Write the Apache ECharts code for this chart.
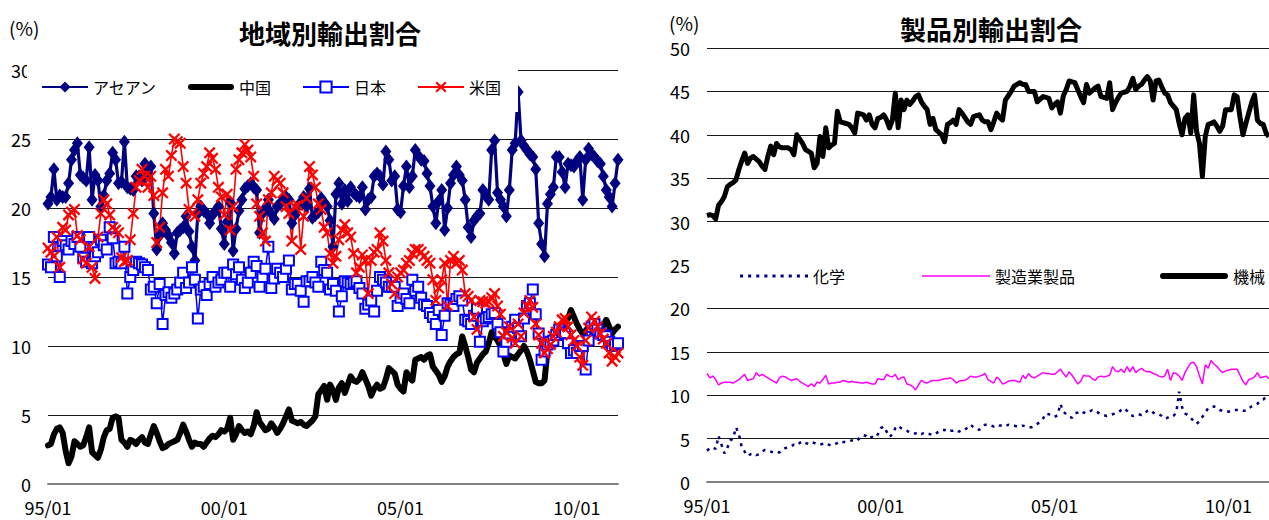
<!DOCTYPE html>
<html>
<head>
<meta charset="utf-8">
<script src="https://cdn.jsdelivr.net/npm/echarts@6/dist/echarts.min.js"></script>
<style>
  html, body { margin: 0; padding: 0; background: #fff; }
  #chart { width: 1269px; height: 520px; }
</style>
</head>
<body>
<div id="chart"></div>
<script>
// Monthly export shares (%), 1995/01 - 2011/03

// Left panel: share by destination
const asean = [
  20.3,20.8,22.8,20.6,20.9,20.8,20.8,21.8,23.5,24.2,24.7,22.4,
  22.2,22.0,24.4,20.6,22.4,22.0,20.1,20.9,22.0,22.5,24.0,23.5,
  21.8,21.9,24.8,21.5,21.4,21.3,22.3,22.3,22.0,23.2,22.4,23.0,
  19.6,17.0,18.0,18.9,18.4,18.0,17.5,16.7,18.2,18.4,18.6,19.4,
  18.3,17.2,16.2,19.6,20.1,19.8,19.6,18.9,19.5,19.8,20.1,18.5,
  17.4,19.0,20.4,16.9,18.5,19.8,20.6,21.4,21.6,21.8,21.5,21.3,
  18.2,19.6,20.0,20.6,19.6,19.2,20.1,20.3,20.6,20.8,20.6,18.9,
  19.5,20.1,20.4,20.8,20.1,21.4,19.3,19.5,19.7,20.7,20.4,20.1,
  19.1,17.2,21.0,21.8,20.3,21.3,20.5,21.5,21.1,20.9,20.8,21.5,
  19.9,20.6,20.8,22.3,22.5,22.3,21.7,24.1,23.5,22.0,22.3,19.9,
  19.7,21.6,23.0,21.5,22.3,24.2,23.8,23.5,23.4,22.5,21.6,20.1,
  18.9,20.5,21.3,18.4,20.0,21.8,22.4,23.0,22.4,22.0,20.6,18.6,
  17.9,19.1,19.4,19.6,21.3,20.9,20.6,24.2,24.9,21.1,20.6,20.1,
  19.4,21.3,24.2,24.7,28.4,24.9,24.5,24.2,23.9,23.7,22.8,18.9,
  17.4,16.5,20.3,21.0,21.5,23.7,23.7,22.6,21.5,23.2,23.1,23.0,
  23.4,23.7,20.6,23.5,24.3,23.9,23.7,23.4,23.2,22.3,21.3,20.8,
  20.1,21.8,23.5
];
const china = [
  2.8,2.9,3.6,4.0,4.1,3.7,2.4,1.5,2.0,3.1,2.9,2.7,
  2.8,3.4,4.1,2.3,2.1,1.9,2.5,3.4,3.9,4.0,4.8,4.9,
  4.8,3.2,3.0,2.7,3.2,3.1,2.9,3.2,3.4,3.0,2.9,3.6,
  4.2,3.7,3.1,2.6,2.7,2.9,3.0,3.1,3.2,3.7,4.3,3.8,
  3.2,2.7,3.0,2.9,2.9,2.7,3.0,3.3,3.5,3.4,3.6,3.9,
  3.8,4.0,4.8,3.2,3.6,4.2,3.9,3.7,3.8,3.6,4.2,5.2,
  4.5,4.2,3.9,4.0,4.4,4.1,3.7,4.0,4.4,4.9,5.4,4.6,
  4.5,4.4,4.5,4.3,4.2,4.4,4.6,4.9,6.5,6.8,7.1,6.1,
  7.2,6.8,6.1,7.0,7.3,6.6,7.2,7.8,7.5,7.4,7.6,8.1,
  7.6,7.1,6.4,6.9,7.2,6.9,7.0,7.6,8.4,8.2,8.0,7.2,
  6.9,6.7,8.1,7.7,7.5,9.0,9.1,9.2,9.0,9.3,9.4,8.5,
  8.2,7.9,7.4,7.8,8.5,8.9,9.2,9.4,9.5,10.7,10.0,9.2,
  8.3,8.1,8.8,9.1,9.4,9.6,10.2,11.0,10.7,10.4,10.0,9.4,
  8.7,9.3,9.2,9.1,9.4,9.7,10.0,9.6,9.0,8.2,7.4,7.3,
  7.3,7.5,9.7,10.3,10.9,11.2,11.4,11.5,11.6,12.0,12.6,12.1,
  11.6,11.2,10.9,11.1,11.4,11.1,10.9,11.0,11.2,11.5,11.9,11.4,
  10.9,11.2,11.4
];
const japan = [
  15.9,15.7,17.9,16.5,15.0,17.6,17.3,17.0,17.6,17.4,17.9,17.2,
  16.4,16.1,17.9,16.0,16.5,16.8,17.7,17.3,17.0,18.6,17.8,16.0,
  16.1,16.0,17.2,13.8,15.0,15.5,16.1,16.0,15.9,15.7,15.5,14.1,
  14.3,13.1,14.5,11.6,13.7,13.9,13.5,13.8,14.1,14.6,15.3,14.2,
  14.6,15.7,14.8,12.0,14.1,14.3,13.7,14.5,15.0,14.3,14.6,14.8,
  15.3,15.3,14.3,15.9,15.2,15.7,14.8,14.2,14.6,15.3,16.1,15.8,
  14.3,15.0,15.6,17.2,14.2,14.9,15.6,15.3,15.0,15.6,16.2,14.1,
  14.5,14.5,14.0,13.2,14.7,14.7,15.0,14.6,14.3,16.1,15.5,15.3,
  14.1,14.5,14.0,12.5,13.6,14.7,14.6,14.5,14.6,14.7,14.2,13.8,
  12.7,13.0,13.3,12.5,14.0,15.0,14.8,14.6,14.3,14.3,14.3,12.9,
  13.5,13.8,13.4,13.1,14.8,14.0,14.3,13.5,13.0,12.9,12.4,12.1,
  11.6,12.6,10.8,12.2,13.1,13.0,12.9,13.4,13.6,13.3,11.9,11.8,
  11.6,12.2,12.7,10.3,11.8,12.0,12.1,12.3,12.4,11.6,11.0,9.6,
  10.3,10.9,11.4,11.9,11.3,10.7,12.0,12.9,13.1,14.1,12.3,10.9,
  9.0,9.6,10.1,10.3,10.4,10.8,11.2,11.0,10.9,10.2,9.5,9.7,
  9.5,10.0,10.0,8.3,10.4,11.4,11.6,11.2,10.9,10.8,10.7,10.3,
  10.0,10.1,10.2
];
const usa = [
  17.1,16.8,16.5,17.9,15.7,18.6,18.4,19.5,19.7,19.9,18.0,17.7,
  16.3,16.0,17.2,15.7,14.9,17.9,19.6,20.6,20.3,19.5,18.6,18.4,
  18.2,16.4,16.1,16.2,17.7,19.6,21.5,22.0,22.8,22.3,21.5,22.3,
  20.9,17.5,18.6,21.1,22.8,22.3,23.8,25.0,24.8,24.7,23.0,21.8,
  19.9,19.6,19.4,20.6,21.8,22.5,23.0,24.0,23.6,22.8,21.5,20.8,
  19.5,21.0,18.4,20.1,22.8,23.5,24.0,24.6,24.2,23.7,22.3,20.3,
  19.4,18.2,17.6,20.6,21.1,22.3,22.0,21.8,21.1,20.1,19.6,17.6,
  20.1,20.2,17.0,19.4,20.7,23.0,22.4,21.5,20.3,19.9,18.6,18.2,
  16.7,16.0,16.5,17.7,18.4,18.8,18.2,17.9,16.7,15.3,15.7,16.6,
  16.2,13.8,16.2,16.8,17.0,18.2,17.6,16.2,15.3,14.5,13.8,15.0,
  15.3,15.5,16.0,16.2,16.7,17.0,17.0,16.8,16.5,16.2,16.0,14.8,
  13.3,14.2,14.8,16.0,12.9,16.2,16.5,16.0,16.2,15.5,13.8,13.6,
  13.3,12.1,11.2,13.3,13.2,13.1,13.2,13.5,13.8,12.9,12.3,10.7,
  11.0,11.4,10.6,10.2,11.6,10.7,12.4,12.9,13.3,12.8,11.6,10.8,
  10.2,9.5,9.8,10.1,10.7,11.0,11.4,11.9,12.0,11.4,10.8,10.4,
  10.0,9.2,8.6,10.4,11.3,12.1,11.8,11.4,10.9,10.5,10.2,9.5,
  8.9,9.2,9.5
];

// Right panel: share by product group
const chemicals = [
  3.6,3.9,4.0,3.8,5.3,4.3,3.3,3.9,4.8,5.0,6.3,5.5,
  4.0,3.5,3.0,3.2,3.3,3.1,3.2,3.5,3.7,3.6,3.5,3.4,
  3.5,3.4,3.7,3.9,4.0,4.1,4.3,4.2,4.5,4.7,4.5,4.4,
  4.6,4.5,4.4,4.3,4.4,4.5,4.3,4.2,4.3,4.5,4.7,4.6,
  4.6,4.7,4.8,4.7,4.8,5.2,5.4,5.3,5.0,5.2,5.1,5.5,
  6.2,6.4,5.8,5.2,5.5,6.2,6.5,6.2,6.0,5.9,5.7,5.6,
  5.6,5.7,5.5,5.7,5.6,5.5,5.4,5.6,5.8,6.0,6.0,5.8,
  5.9,5.9,6.0,5.8,6.0,6.0,6.3,6.6,6.3,6.1,6.0,6.3,
  6.6,6.6,6.5,6.4,6.6,6.5,6.5,6.4,6.6,6.5,6.5,6.4,
  6.4,6.5,6.4,6.3,6.3,6.5,6.7,6.9,7.3,7.9,7.8,7.6,
  7.5,7.7,9.0,8.1,7.8,7.5,7.4,7.9,8.0,8.2,8.0,7.9,
  8.1,8.3,8.2,8.0,7.8,7.7,7.6,7.7,7.8,7.9,8.0,8.3,
  8.5,8.2,7.8,7.6,7.7,7.8,7.7,7.9,8.2,8.3,8.0,7.8,
  7.8,7.6,7.3,7.4,7.6,7.6,8.0,10.4,8.6,7.9,7.7,7.4,
  7.0,6.7,7.0,7.5,8.0,8.5,8.6,8.7,8.6,8.3,8.2,8.2,
  8.1,8.2,8.3,8.3,8.3,8.2,8.2,8.5,8.7,8.8,9.0,9.4,
  9.5,9.8,9.9
];
const manufactures = [
  12.5,12.0,12.2,11.8,11.2,11.4,11.5,11.5,11.5,11.4,11.6,11.8,
  12.1,12.4,11.7,11.8,11.9,12.6,12.2,12.4,12.2,12.0,11.8,11.6,
  11.4,12.0,12.2,12.1,11.9,11.7,11.8,11.9,11.6,11.4,11.2,11.0,
  11.3,11.0,11.5,11.4,11.8,12.3,11.3,11.4,11.4,11.5,11.5,11.7,
  11.6,11.5,11.6,11.5,11.5,11.4,11.4,11.5,11.4,11.3,11.3,11.9,
  11.8,11.8,12.4,12.2,12.1,12.4,11.8,12.0,12.1,11.3,11.2,11.0,
  10.6,11.2,11.7,11.5,11.4,11.6,11.7,11.7,11.7,11.8,11.9,11.9,
  12.0,11.8,11.4,11.6,11.7,11.7,11.9,12.2,12.1,12.1,12.2,12.3,
  12.5,11.8,11.6,11.4,12.1,11.8,11.3,11.4,11.6,11.7,11.7,11.6,
  11.5,12.3,11.9,12.5,12.1,12.0,12.2,12.4,12.6,12.5,12.5,12.4,
  12.4,12.7,13.0,12.5,12.1,12.7,12.3,11.8,11.3,11.6,12.3,12.2,
  12.2,11.9,11.7,12.1,12.2,12.1,12.2,12.3,13.3,12.8,12.7,13.0,
  12.6,13.3,12.7,13.3,12.6,12.9,13.1,12.8,12.7,12.7,12.5,12.4,
  12.2,12.1,12.2,13.0,11.7,12.6,12.5,12.2,11.7,12.6,13.2,13.7,
  13.8,13.3,12.2,11.3,13.5,13.1,14.0,13.6,13.3,12.9,12.6,12.8,
  12.9,13.0,13.0,13.0,12.3,11.6,11.2,11.8,11.9,12.1,12.6,12.0,
  12.1,12.2,11.9
];
const machinery = [
  30.7,30.8,30.7,30.3,31.9,32.3,32.9,34.0,34.3,34.5,34.8,36.0,
  37.0,37.9,36.7,37.3,37.5,37.2,36.9,36.4,36.0,37.5,38.7,37.7,
  39.0,38.6,38.5,38.5,38.5,38.3,37.7,40.0,39.5,39.0,38.3,38.1,
  37.9,36.2,36.7,39.8,37.5,40.8,38.5,38.8,39.0,42.7,41.5,41.4,
  41.3,41.2,40.8,40.2,42.5,42.4,42.3,41.7,42.3,41.2,40.8,41.9,
  42.0,42.3,41.7,40.8,41.7,44.8,40.8,44.0,42.9,44.0,43.5,43.9,
  44.4,44.6,43.8,43.3,42.9,41.2,41.9,40.6,40.3,40.0,39.2,41.2,
  41.4,41.7,41.2,42.9,42.5,42.0,41.5,41.2,42.1,42.2,42.3,41.7,
  41.5,41.5,40.6,41.5,42.5,42.0,41.7,44.0,44.5,45.0,45.6,45.8,
  46.0,45.8,45.8,45.0,45.0,45.0,43.8,44.1,44.4,44.3,44.2,43.1,
  43.5,43.8,42.5,44.5,45.2,46.2,46.1,46.0,45.2,44.4,43.7,45.8,
  44.8,45.1,45.4,45.6,44.4,44.3,44.2,46.0,42.9,43.7,44.3,44.8,
  44.9,45.0,45.6,46.5,45.2,45.6,45.8,46.3,46.7,46.2,44.0,46.2,
  46.3,45.5,44.8,44.6,43.7,43.3,42.9,41.3,40.0,41.9,42.3,40.2,
  44.6,40.4,39.0,35.2,39.8,41.2,41.3,41.5,41.0,40.4,41.0,42.9,
  42.9,42.9,44.6,44.4,42.0,40.0,41.3,42.5,43.7,44.6,41.7,41.3,
  41.2,40.2,39.8
];

// Category axis: months as "YY/MM"; only these ticks are labelled
const firstYear = 1995;
const months = [];
for (let k = 0; k < asean.length; k++) {
  const yy = (firstYear + Math.floor(k / 12)) % 100;
  const mm = (k % 12) + 1;
  months.push(String(yy).padStart(2, '0') + '/' + String(mm).padStart(2, '0'));
}
const tickLabels = ['95/01', '00/01', '05/01', '10/01'];

const FONT = '"Noto Sans CJK JP", "Noto Sans", sans-serif';
const CROSS = 'path://M0,1.6L1.6,0L12,10.4L10.4,12Z M10.4,0L12,1.6L1.6,12L0,10.4Z';

// legend keys for series drawn without markers
const thickKey = w => 'path://M3,0H' + (w - 3) + 'A3,3,0,0,1,' + (w - 3) + ',6H3A3,3,0,0,1,3,0Z';
const thinKey = w => 'path://M0,0H' + w + 'V1.6H0Z';
let dotted = 'path://';
for (let p = 0; p + 3 <= 68; p += 8) dotted += 'M' + p + ',0h3v3h-3z ';
const dottedKey = dotted.trim();

function categoryAxis(gridIndex) {
  return {
    gridIndex, type: 'category', data: months, boundaryGap: false,
    axisTick: { show: false },
    axisLine: { lineStyle: { color: '#808080', width: 2 } },
    axisLabel: {
      interval: (i, v) => tickLabels.includes(v),
      margin: 14, fontSize: 18, color: '#000', fontFamily: FONT
    },
    splitLine: { show: false }
  };
}
function valueAxis(gridIndex, max) {
  return {
    gridIndex, type: 'value', min: 0, max, interval: 5,
    axisLine: { show: false }, axisTick: { show: false },
    splitLine: { lineStyle: { color: '#1a1a1a', width: 1 } },
    axisLabel: { margin: 17, fontSize: 18, color: '#000', fontFamily: FONT }
  };
}
const legendText = { fontSize: 16, color: '#000', fontFamily: FONT };
const keyBox = { itemWidth: 68, itemHeight: 14, selectedMode: false, textStyle: legendText };

const chart = echarts.init(document.getElementById('chart'), null, { renderer: 'svg' });
chart.setOption({
  animation: false,
  backgroundColor: '#fff',
  grid: [
    { left: 48, top: 70, width: 570, height: 414 },
    { left: 707, top: 48, width: 565, height: 434 }
  ],
  xAxis: [categoryAxis(0), categoryAxis(1)],
  yAxis: [valueAxis(0, 30), valueAxis(1, 50)],
  legend: [
    {
      data: ['アセアン', { name: '中国', icon: thickKey(46) }, '日本', '米国'],
      left: 27, top: 62, padding: [17, 17, 17, 14],
      itemGap: 31, itemWidth: 46, itemHeight: 14,
      backgroundColor: '#fff', selectedMode: false, textStyle: legendText
    },
    Object.assign({
      data: [{ name: '化学', icon: dottedKey }],
      left: 707, top: 258, padding: [10, 424, 10, 33],
      backgroundColor: '#fff'
    }, keyBox),
    Object.assign({
      data: [{ name: '製造業製品', icon: thinKey(68) }],
      left: 922, top: 268, padding: 0, z: 6
    }, keyBox),
    Object.assign({
      data: [{ name: '機械', icon: thickKey(68) }],
      left: 1160, top: 268, padding: 0, z: 6
    }, keyBox)
  ],
  graphic: [
    { type: 'text', x: 330, y: 32, style: { text: '地域別輸出割合', font: 'bold 26px ' + FONT, fill: '#000', textAlign: 'center', textVerticalAlign: 'middle' } },
    { type: 'text', x: 991, y: 28, style: { text: '製品別輸出割合', font: 'bold 26px ' + FONT, fill: '#000', textAlign: 'center', textVerticalAlign: 'middle' } },
    { type: 'text', x: 9, y: 27, style: { text: '(%)', font: '19px ' + FONT, fill: '#000', textAlign: 'left', textVerticalAlign: 'middle' } },
    { type: 'text', x: 669, y: 22, style: { text: '(%)', font: '19px ' + FONT, fill: '#000', textAlign: 'left', textVerticalAlign: 'middle' } }
  ],
  series: [
    {
      name: 'アセアン', type: 'line', xAxisIndex: 0, yAxisIndex: 0, data: asean,
      symbol: 'diamond', symbolSize: [11, 14], showSymbol: true, showAllSymbol: true,
      itemStyle: { color: '#000080' }, lineStyle: { color: '#000080', width: 3.2 }
    },
    {
      name: '中国', type: 'line', xAxisIndex: 0, yAxisIndex: 0, data: china,
      symbol: 'none', itemStyle: { color: '#000' },
      lineStyle: { color: '#000', width: 6, cap: 'round', join: 'round' }
    },
    {
      name: '日本', type: 'line', xAxisIndex: 0, yAxisIndex: 0, data: japan,
      symbol: 'rect', symbolSize: 10, showSymbol: true, showAllSymbol: true,
      itemStyle: { color: '#fff', borderColor: '#0000ff', borderWidth: 2 },
      lineStyle: { color: '#0000ff', width: 1.5 }
    },
    {
      name: '米国', type: 'line', xAxisIndex: 0, yAxisIndex: 0, data: usa,
      symbol: CROSS, symbolSize: 12, showSymbol: true, showAllSymbol: true,
      itemStyle: { color: '#ff0000' }, lineStyle: { color: '#ff0000', width: 1.6 }
    },
    {
      name: '化学', type: 'line', xAxisIndex: 1, yAxisIndex: 1, data: chemicals,
      symbol: 'none', itemStyle: { color: '#000080' },
      lineStyle: { color: '#000080', width: 2.5, type: [3, 5] }
    },
    {
      name: '製造業製品', type: 'line', xAxisIndex: 1, yAxisIndex: 1, data: manufactures,
      symbol: 'none', itemStyle: { color: '#ff00ff' },
      lineStyle: { color: '#ff00ff', width: 1.5 }
    },
    {
      name: '機械', type: 'line', xAxisIndex: 1, yAxisIndex: 1, data: machinery,
      symbol: 'none', itemStyle: { color: '#000' },
      lineStyle: { color: '#000', width: 5, join: 'round' }
    }
  ]
});
</script>
</body>
</html>
